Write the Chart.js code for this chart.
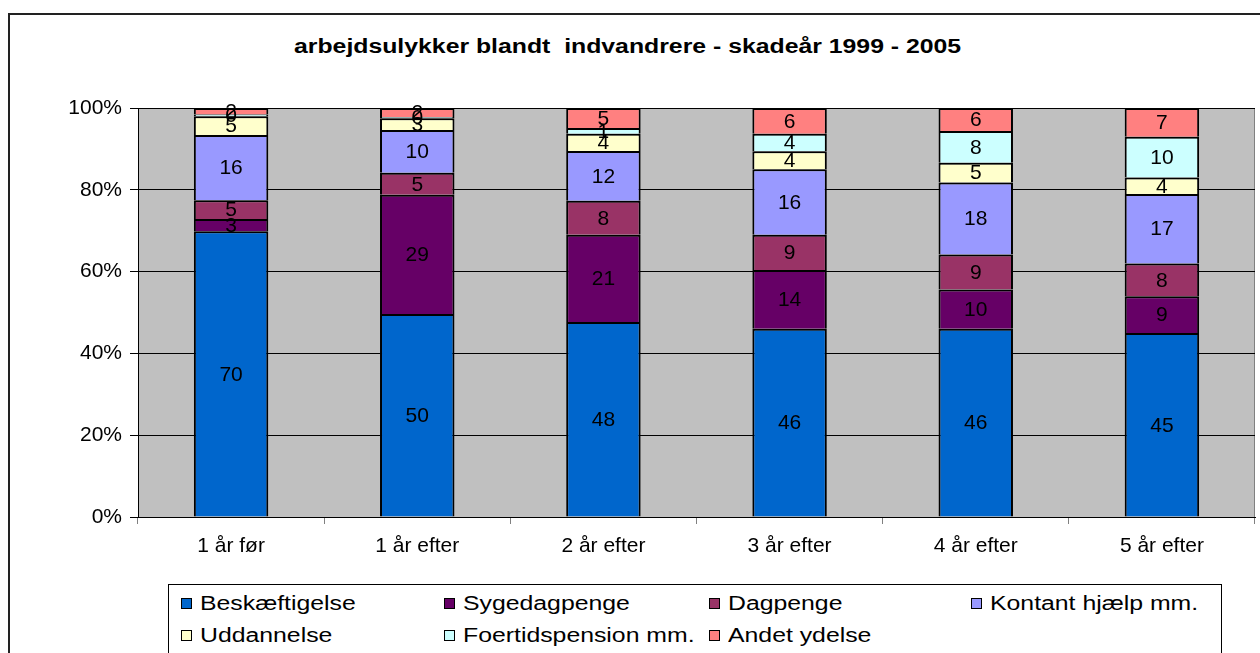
<!DOCTYPE html>
<html>
<head>
<meta charset="utf-8">
<script src="https://cdn.jsdelivr.net/npm/chart.js"></script>
<style>
  body { margin: 0; width: 1260px; height: 653px; overflow: hidden; background: #fff; font-family: Arial, "Liberation Sans", sans-serif; }
  #frame { position: absolute; left: 8px; top: 13px; width: 1300px; height: 700px; border: 2px solid #222; }
  #title { position: absolute; left: 0; width: 1260px; top: 35px; text-align: center; font-weight: bold; font-size: 20px; white-space: pre; transform: scaleX(1.24); transform-origin: 640px 0; }
  #chart { position: absolute; left: 0; top: 0; }
  #legend { position: absolute; left: 168px; top: 584px; width: 1052px; height: 100px; border: 1px solid #000; background: #fff; }
  .item { position: absolute; font-size: 20px; white-space: nowrap; line-height: 20px; }
  .box { display: inline-block; width: 9px; height: 9px; border: 1px solid #000; margin-right: 8px; vertical-align: 1px; }
  .txt { display: inline-block; transform: scaleX(1.24); transform-origin: 0 0; }
</style>
</head>
<body>
<div id="frame"></div>
<div id="title">arbejdsulykker blandt  indvandrere - skadeår 1999 - 2005</div>
<canvas id="chart" width="1260" height="653"></canvas>
<div id="legend"></div>
<script>
// Kategorier og serier (procent)
const categories = ['1 år før', '1 år efter', '2 år efter', '3 år efter', '4 år efter', '5 år efter'];
const seriesNames = ['Beskæftigelse', 'Sygedagpenge', 'Dagpenge', 'Kontant hjælp mm.', 'Uddannelse', 'Foertidspension mm.', 'Andet ydelse'];
const beskaeftigelse = [70, 49.6, 47.7, 46, 46, 45];
const sygedagpenge = [3, 29.1, 21.3, 14.4, 9.6, 9];
const dagpenge = [4.6, 5.4, 8.3, 8.6, 8.6, 8];
const kontant = [16, 10.4, 12.2, 16, 17.6, 17];
const uddannelse = [4.6, 2.9, 4.2, 4.4, 4.8, 4];
const foertid = [0.4, 0.3, 1.4, 4.3, 7.8, 10];
const andet = [1.6, 2.2, 4.9, 6.3, 5.6, 7];
const yTicks = ['0%', '20%', '40%', '60%', '80%', '100%'];
const colors = ['#0066CC', '#660066', '#993366', '#9999FF', '#FFFFCC', '#CCFFFF', '#FF8080'];

const series = [beskaeftigelse, sygedagpenge, dagpenge, kontant, uddannelse, foertid, andet];

// 100% stablet: normaliser hver kolonne
const totals = categories.map((c, i) => series.reduce((s, arr) => s + arr[i], 0));

const datasets = series.map((arr, k) => ({
  label: seriesNames[k],
  data: arr.map((v, i) => v / totals[i] * 100),
  raw: arr,
  backgroundColor: colors[k],
  borderColor: '#000',
  borderWidth: 2,
  barPercentage: 0.4,
  categoryPercentage: 1
}));

// Grå baggrund i plotområdet
const bgPlugin = {
  id: 'bg',
  beforeDraw(chart) {
    const a = chart.chartArea, ctx = chart.ctx;
    ctx.save();
    ctx.fillStyle = '#C0C0C0';
    ctx.fillRect(a.left, a.top, a.right - a.left, a.bottom - a.top);
    ctx.strokeStyle = '#808080';
    ctx.lineWidth = 1;
    ctx.beginPath();
    ctx.moveTo(a.left, a.top + 0.5);
    ctx.lineTo(a.right - 0.5, a.top + 0.5);
    ctx.lineTo(a.right - 0.5, a.bottom);
    ctx.stroke();
    ctx.restore();
  }
};

// Tal midt i hvert segment
const labelPlugin = {
  id: 'vals',
  afterDatasetsDraw(chart) {
    const ctx = chart.ctx;
    ctx.save();
    ctx.font = '21px Arial, "Liberation Sans", sans-serif';
    ctx.fillStyle = '#000';
    ctx.textAlign = 'center';
    ctx.textBaseline = 'middle';
    chart.data.datasets.forEach((ds, k) => {
      chart.getDatasetMeta(k).data.forEach((bar, i) => {
        ctx.fillText(String(Math.round(ds.raw[i])), bar.x, (bar.y + bar.base) / 2 + 1);
      });
    });
    ctx.restore();
  }
};

const chart = new Chart(document.getElementById('chart'), {
  type: 'bar',
  data: { labels: categories, datasets: datasets },
  options: {
    responsive: false,
    animation: false,
    layout: { padding: { left: 0, top: 108, right: 5, bottom: 76 } },
    plugins: { legend: { display: false }, tooltip: { enabled: false } },
    scales: {
      x: {
        stacked: true,
        grid: { offset: true, drawOnChartArea: false, color: '#808080', tickLength: 7 },
        border: { color: '#000' },
        ticks: { color: '#000', font: { family: 'Arial, "Liberation Sans", sans-serif', size: 21 }, padding: 10 },
        afterFit(s) { s.height = 60; }
      },
      y: {
        stacked: true,
        min: 0,
        max: 100,
        ticks: {
          stepSize: 20,
          color: '#000',
          padding: 8,
          font: { family: 'Arial, "Liberation Sans", sans-serif', size: 21 },
          callback: (v) => yTicks[v / 20]
        },
        grid: { color: '#000', tickLength: 8 },
        border: { color: '#000' },
        afterFit(s) { s.width = 138; }
      }
    }
  },
  plugins: [bgPlugin, labelPlugin]
});

// HTML-forklaring bygget fra datasættene
const legend = document.getElementById('legend');
const colX = [12, 275, 540, 802];
chart.data.datasets.forEach((ds, k) => {
  const el = document.createElement('div');
  el.className = 'item';
  el.style.left = colX[k % 4] + 'px';
  el.style.top = (k < 4 ? 8 : 40) + 'px';
  el.innerHTML = '<span class="box" style="background:' + ds.backgroundColor + '"></span><span class="txt">' + ds.label + '</span>';
  legend.appendChild(el);
});
</script>
</body>
</html>
